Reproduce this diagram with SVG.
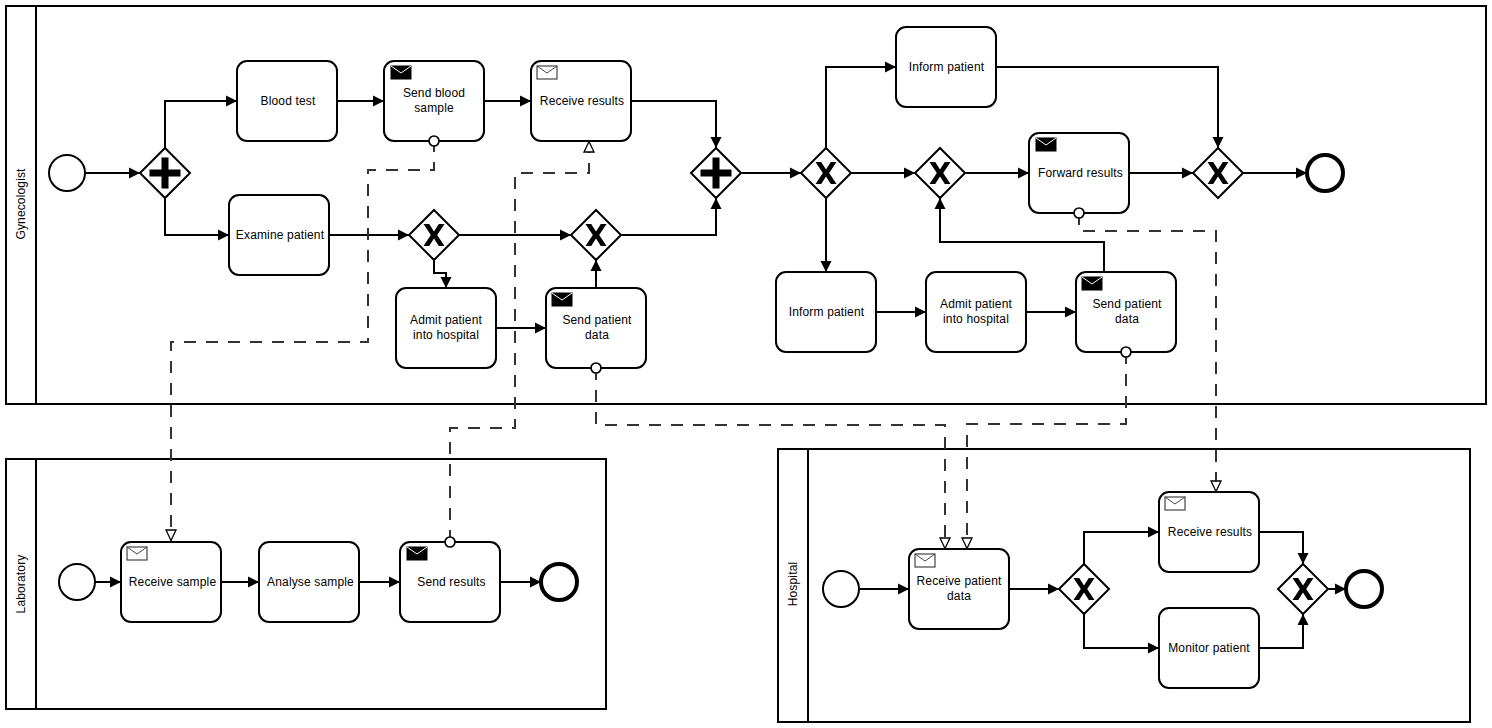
<svg xmlns="http://www.w3.org/2000/svg" xmlns:xlink="http://www.w3.org/1999/xlink" width="1492" height="728" viewBox="0 0 1492 728">
<style>
text{font-family:"Liberation Sans",Arial,sans-serif;font-size:12px;fill:#000;text-anchor:middle;letter-spacing:.15px}
.pool{fill:#fff;stroke:#000;stroke-width:2}
.task{fill:#fff;stroke:#000;stroke-width:2}
.gw{fill:#fff;stroke:#000;stroke-width:2}
.ev{fill:#fff;stroke:#000;stroke-width:2}
.end{fill:#fff;stroke:#000;stroke-width:4}
.seq{fill:none;stroke:#000;stroke-width:2;marker-end:url(#a)}
.msg{fill:none;stroke:#333;stroke-width:2;stroke-dasharray:12 10}
.msga{marker-end:url(#o)}
.dot{fill:#fff;stroke:#000;stroke-width:1.7}
.me{fill:#000;stroke:#000}
.mo{fill:#fff;stroke:#444;stroke-width:1.2}
.ml{fill:none;stroke:#fff;stroke-width:1}
.ml2{fill:none;stroke:#444;stroke-width:1}
</style>
<defs>
<marker id="a" markerUnits="userSpaceOnUse" markerWidth="13" markerHeight="13" refX="11" refY="6.500" orient="auto"><path d="M0 1L11 6.500L0 12Z" fill="#000"/></marker>
<marker id="o" markerUnits="userSpaceOnUse" markerWidth="15" markerHeight="14" refX="12.500" refY="7" orient="auto"><path d="M1.500 2L12 7L1.500 12Z" fill="#fff" stroke="#000" stroke-width="1.300"/></marker>
<g id="mfill"><rect class="me" x="0" y="0" width="20" height="13"/><path class="ml" d="M0 0L10 7L20 0"/></g>
<g id="mopen"><rect class="mo" x="0" y="0" width="20" height="13"/><path class="ml2" d="M0 0L10 7L20 0"/></g>
<path id="x" d="M-10.500 -11H-4.800L0 -3.400L4.800 -11H10.500L3.200 0L10.500 11H4.800L0 3.400L-4.800 11H-10.500L-3.200 0Z" fill="#000"/>
<path id="plus" d="M-15.500 -3.500H-3.500V-15.500H3.500V-3.500H15.500V3.500H3.500V15.500H-3.500V3.500H-15.500Z" fill="#000"/>
<path id="dia" class="gw" d="M0 -25L25 0L0 25L-25 0Z"/>
</defs>
<rect width="1492" height="728" fill="#fff"/>

<g id="pool-gyn"><rect class="pool" x="6" y="6" width="1480" height="398"/><path class="pool" d="M36 6V404"/><text transform="translate(25,204) rotate(-90)">Gynecologist</text></g>
<g id="pool-lab"><rect class="pool" x="6" y="459" width="600" height="250"/><path class="pool" d="M36 459V709"/><text transform="translate(25,584) rotate(-90)">Laboratory</text></g>
<g id="pool-hos"><rect class="pool" x="778" y="449" width="692" height="273"/><path class="pool" d="M808 449V722"/><text transform="translate(797,584) rotate(-90)">Hospital</text></g>

<g id="connectors">
<path class="seq" d="M86 173H140"/>
<path class="seq" d="M165 148V101H237"/>
<path class="seq" d="M165 198V235H229"/>
<path class="seq" d="M337 101H384"/>
<path class="seq" d="M484 101H531"/>
<path class="seq" d="M631 101H716V148"/>
<path class="seq" d="M329 235H409"/>
<path class="seq" d="M459 235H571"/>
<path class="seq" d="M434 260V273H446V288"/>
<path class="seq" d="M496 328H546"/>
<path class="seq" d="M596 288V260"/>
<path class="seq" d="M621 235H716V198"/>
<path class="seq" d="M741 173H801"/>
<path class="seq" d="M826 148V67H896"/>
<path class="seq" d="M851 173H915"/>
<path class="seq" d="M826 198V272"/>
<path class="seq" d="M876 312H926"/>
<path class="seq" d="M1026 312H1076"/>
<path class="seq" d="M1104 272V242H940V198"/>
<path class="seq" d="M965 173H1029"/>
<path class="seq" d="M996 67H1218V148"/>
<path class="seq" d="M1129 173H1193"/>
<path class="seq" d="M1243 173H1307"/>
<path class="seq" d="M95 582H121"/>
<path class="seq" d="M221 582H259"/>
<path class="seq" d="M359 582H400"/>
<path class="seq" d="M500 582H541"/>
<path class="seq" d="M859 589H909"/>
<path class="seq" d="M1009 589H1059"/>
<path class="seq" d="M1084 564V532H1159"/>
<path class="seq" d="M1084 614V648H1159"/>
<path class="seq" d="M1259 532H1303V564"/>
<path class="seq" d="M1259 648H1303V614"/>
<path class="seq" d="M1328 589H1346"/>
<path class="msg msga" d="M434 140V170H368V342H171V541"/>
<path class="msg msga" d="M450 542V428H515V173H589V141"/>
<path class="msg msga" d="M596 368V425H945V549"/>
<path class="msg msga" d="M1126 352V424H967V549"/>
<path class="msg msga" d="M1079 213V231H1216V492"/>
</g>

<g id="start1"><circle class="ev" cx="67" cy="173" r="18"/></g>
<g id="gw1"><use xlink:href="#dia" x="165" y="173"/><use xlink:href="#plus" x="165" y="173"/></g>
<g id="blood"><rect class="task" x="237" y="61" width="100" height="80" rx="10"/><text x="288" y="105">Blood test</text></g>
<g id="sendblood"><rect class="task" x="384" y="61" width="100" height="80" rx="10"/><use xlink:href="#mfill" x="391" y="66"/><text x="434" y="97">Send blood</text><text x="434" y="112">sample</text></g>
<g id="recv"><rect class="task" x="531" y="61" width="100" height="80" rx="10"/><use xlink:href="#mopen" x="537" y="66"/><text x="582" y="105">Receive results</text></g>
<g id="exam"><rect class="task" x="229" y="195" width="100" height="80" rx="10"/><text x="280" y="239">Examine patient</text></g>
<g id="gw2"><use xlink:href="#dia" x="434" y="235"/><use xlink:href="#x" x="434" y="235"/></g>
<g id="gw3"><use xlink:href="#dia" x="596" y="235"/><use xlink:href="#x" x="596" y="235"/></g>
<g id="admit1"><rect class="task" x="396" y="288" width="100" height="80" rx="10"/><text x="446" y="324">Admit patient</text><text x="446" y="339">into hospital</text></g>
<g id="sendp1"><rect class="task" x="546" y="288" width="100" height="80" rx="10"/><use xlink:href="#mfill" x="552" y="293"/><text x="597" y="324">Send patient</text><text x="597" y="339">data</text></g>
<g id="gw4"><use xlink:href="#dia" x="716" y="173"/><use xlink:href="#plus" x="716" y="173"/></g>
<g id="gw5"><use xlink:href="#dia" x="826" y="173"/><use xlink:href="#x" x="826" y="173"/></g>
<g id="gw6"><use xlink:href="#dia" x="940" y="173"/><use xlink:href="#x" x="940" y="173"/></g>
<g id="inform1"><rect class="task" x="896" y="27" width="100" height="80" rx="10"/><text x="946.500" y="71">Inform patient</text></g>
<g id="forward"><rect class="task" x="1029" y="133" width="100" height="80" rx="10"/><use xlink:href="#mfill" x="1036" y="138"/><text x="1080.500" y="177">Forward results</text></g>
<g id="gw7"><use xlink:href="#dia" x="1218" y="173"/><use xlink:href="#x" x="1218" y="173"/></g>
<g id="end1"><circle class="end" cx="1325" cy="173" r="18"/></g>
<g id="inform2"><rect class="task" x="776" y="272" width="100" height="80" rx="10"/><text x="826.500" y="316">Inform patient</text></g>
<g id="admit2"><rect class="task" x="926" y="272" width="100" height="80" rx="10"/><text x="976" y="308">Admit patient</text><text x="976" y="323">into hospital</text></g>
<g id="sendp2"><rect class="task" x="1076" y="272" width="100" height="80" rx="10"/><use xlink:href="#mfill" x="1082" y="277"/><text x="1127" y="308">Send patient</text><text x="1127" y="323">data</text></g>

<g id="start2"><circle class="ev" cx="77" cy="582" r="18"/></g>
<g id="recvs"><rect class="task" x="121" y="542" width="100" height="80" rx="10"/><use xlink:href="#mopen" x="127" y="547"/><text x="172.500" y="586">Receive sample</text></g>
<g id="analyse"><rect class="task" x="259" y="542" width="100" height="80" rx="10"/><text x="310.500" y="586">Analyse sample</text></g>
<g id="sendr"><rect class="task" x="400" y="542" width="100" height="80" rx="10"/><use xlink:href="#mfill" x="407" y="547"/><text x="451.500" y="586">Send results</text></g>
<g id="end2"><circle class="end" cx="559" cy="582" r="18"/></g>

<g id="start3"><circle class="ev" cx="841" cy="589" r="18"/></g>
<g id="recvp"><rect class="task" x="909" y="549" width="100" height="80" rx="10"/><use xlink:href="#mopen" x="915" y="554"/><text x="959" y="585">Receive patient</text><text x="959" y="600">data</text></g>
<g id="gw8"><use xlink:href="#dia" x="1084" y="589"/><use xlink:href="#x" x="1084" y="589"/></g>
<g id="recvh"><rect class="task" x="1159" y="492" width="100" height="80" rx="10"/><use xlink:href="#mopen" x="1165" y="497"/><text x="1210" y="536">Receive results</text></g>
<g id="monitor"><rect class="task" x="1159" y="608" width="100" height="80" rx="10"/><text x="1209" y="652">Monitor patient</text></g>
<g id="gw9"><use xlink:href="#dia" x="1303" y="589"/><use xlink:href="#x" x="1303" y="589"/></g>
<g id="end3"><circle class="end" cx="1364" cy="589" r="18"/></g>

<g id="message-dots">
<circle class="dot" cx="434" cy="141" r="5"/>
<circle class="dot" cx="450" cy="542" r="5"/>
<circle class="dot" cx="596" cy="368" r="5"/>
<circle class="dot" cx="1126" cy="352" r="5"/>
<circle class="dot" cx="1079" cy="213" r="5"/>
</g>
</svg>
